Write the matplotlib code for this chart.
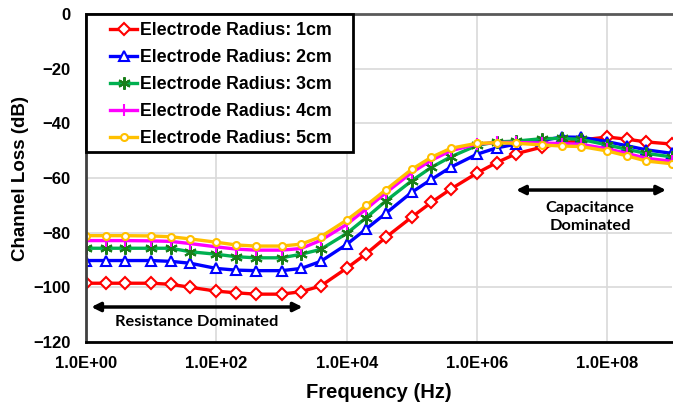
import matplotlib
matplotlib.use('Agg')
import matplotlib.pyplot as plt
from matplotlib.patches import Rectangle

plt.rcParams['font.family'] = 'Liberation Sans'
plt.rcParams['font.weight'] = 'bold'

# frequency points (Hz), 1-2-4 per decade
freq = [1, 2, 4, 1e1, 2e1, 4e1, 1e2, 2e2, 4e2, 1e3, 2e3, 4e3,
        1e4, 2e4, 4e4, 1e5, 2e5, 4e5, 1e6, 2e6, 4e6, 1e7, 2e7, 4e7,
        1e8, 2e8, 4e8, 1e9]

r1 = [-98.5, -98.5, -98.5, -98.5, -98.9, -100.0, -101.4, -102.0, -102.5, -102.5, -101.6, -99.5,
      -93.0, -87.7, -81.7, -74.3, -68.9, -64.0, -58.2, -54.4, -51.1, -48.7, -47.3, -46.1,
      -45.0, -45.8, -46.8, -47.6]
r2 = [-90.2, -90.2, -90.2, -90.2, -90.5, -91.2, -93.1, -93.7, -93.9, -93.9, -93.1, -90.5,
      -84.3, -78.6, -72.9, -65.2, -60.5, -56.0, -51.3, -49.0, -47.6, -46.3, -45.0, -45.1,
      -46.7, -48.2, -49.7, -51.0]
r3 = [-85.7, -85.7, -85.7, -85.7, -85.7, -87.0, -87.9, -88.8, -89.2, -89.2, -87.9, -86.1,
      -80.3, -74.5, -68.4, -61.0, -56.1, -52.2, -48.1, -46.8, -46.5, -45.6, -45.5, -45.9,
      -47.9, -49.5, -51.0, -52.3]
r4 = [-82.9, -82.9, -82.9, -83.0, -83.2, -84.0, -85.2, -86.0, -86.4, -86.4, -85.8, -82.8,
      -77.0, -71.3, -65.4, -58.0, -53.5, -50.0, -47.6, -47.0, -47.0, -47.2, -47.4, -47.7,
      -49.3, -51.0, -52.8, -53.9]
r5 = [-81.1, -81.1, -81.1, -81.2, -81.5, -82.3, -83.5, -84.5, -84.9, -84.9, -84.2, -81.5,
      -75.4, -70.0, -64.3, -56.8, -52.4, -49.1, -47.3, -47.1, -47.3, -47.9, -48.3, -48.5,
      -50.1, -51.9, -53.8, -54.8]

labels = ['Electrode Radius: 1cm', 'Electrode Radius: 2cm', 'Electrode Radius: 3cm',
          'Electrode Radius: 4cm', 'Electrode Radius: 5cm']
xticks = [1, 1e2, 1e4, 1e6, 1e8]
xticklabels = ['1.0E+00', '1.0E+02', '1.0E+04', '1.0E+06', '1.0E+08']
yticks = [-120, -100, -80, -60, -40, -20, 0]

fig = plt.figure(figsize=(6.73, 4.04), dpi=100)
ax = fig.add_axes([0.128, 0.1535, 0.871, 0.8118])

lw = 2.4
ax.plot(freq, r1, color='#ff0000', lw=lw, marker='D', ms=6, mfc='white', mec='#ff0000', mew=1.5, label=labels[0])
ax.plot(freq, r2, color='#0000ff', lw=lw, marker='^', ms=6.5, mfc='white', mec='#0000ff', mew=1.5, label=labels[1])
ax.plot(freq, r3, color='#00b050', lw=lw, marker=(6, 2, 0), ms=9, mec='#1a7f1a', mew=1.5, label=labels[2])
ax.plot(freq, r4, color='#ff00ff', lw=lw, marker='|', ms=9, mec='#ff00ff', mew=1.5, label=labels[3])
ax.plot(freq, r5, color='#ffc000', lw=lw, marker='o', ms=5, mfc='white', mec='#ffc000', mew=1.5, label=labels[4])

ax.set_xscale('log')
ax.set_xlim(1, 1e9)
ax.set_ylim(-120, 0)
ax.set_xticks(xticks)
ax.set_xticklabels(xticklabels)
ax.minorticks_off()
ax.set_yticks(yticks)
ax.tick_params(axis='x', length=0, labelsize=12, pad=10)
ax.tick_params(axis='y', length=0, labelsize=12, pad=11)
ax.grid(True, color='#d9d9d9', lw=1.2)
ax.set_axisbelow(True)

ax.spines['right'].set_visible(False)
ax.spines['top'].set_color('#595959')
ax.spines['top'].set_linewidth(2)
ax.spines['left'].set_color('#404040')
ax.spines['left'].set_linewidth(2)
ax.spines['bottom'].set_color('black')
ax.spines['bottom'].set_linewidth(2)

ax.set_xlabel('Frequency (Hz)', fontsize=14.5, fontweight='bold', labelpad=9)
ax.set_ylabel('Channel Loss (dB)', fontsize=13.5, fontweight='bold', labelpad=3)

# legend box drawn by hand, legend itself frameless inside it
box = Rectangle((0, 0.5793), 0.4556, 0.4207, transform=ax.transAxes, facecolor='white',
                edgecolor='black', lw=2, zorder=4, clip_on=False)
ax.add_patch(box)
leg = ax.legend(loc='upper left', bbox_to_anchor=(0.041, 0.975), borderaxespad=0, fontsize=12.8,
                frameon=False, handlelength=1.5, handletextpad=0.17, labelspacing=0.56,
                borderpad=0)
leg.set_zorder(5)
for t in leg.get_texts():
    t.set_fontweight('bold')

# annotations
arrow = dict(arrowstyle='<|-|>', color='black', lw=2.5, mutation_scale=13, shrinkA=0, shrinkB=0)
ax.annotate('', xy=(1.2, -107.2), xytext=(2100, -107.2), arrowprops=arrow)
ax.text(50, -112.7, 'Resistance Dominated', family='Lato', fontweight='bold', fontsize=11.8,
        ha='center', va='center')
ax.annotate('', xy=(4.0e6, -64.4), xytext=(8.0e8, -64.4), arrowprops=arrow)
ax.text(5.5e7, -74.3, 'Capacitance\nDominated', family='Lato', fontweight='bold', fontsize=11.8,
        ha='center', va='center', linespacing=1.4)

fig.savefig('out.png', dpi=100)
